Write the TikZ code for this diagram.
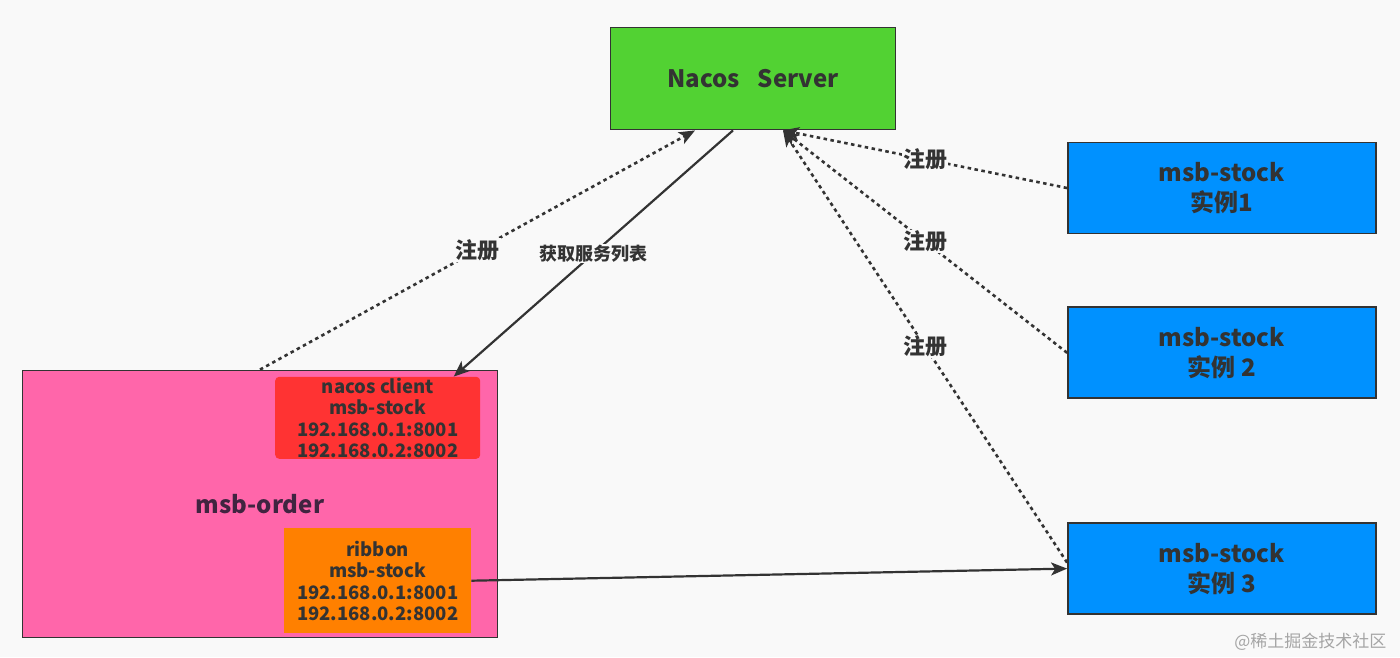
\documentclass[tikz,border=0pt]{standalone}
\usepackage{fontspec}
\setmainfont{Noto Sans CJK SC}
\usetikzlibrary{calc, positioning, arrows.meta}
\definecolor{pageBg}{RGB}{249,249,249}
\definecolor{serverG}{RGB}{82,210,51}
\definecolor{stockB}{RGB}{0,145,255}
\definecolor{orderP}{RGB}{255,102,170}
\definecolor{orderInk}{RGB}{64,36,64}
\definecolor{clientR}{RGB}{255,51,51}
\definecolor{ribbonO}{RGB}{255,128,0}
\definecolor{inkD}{RGB}{51,51,51}
\definecolor{markG}{RGB}{165,165,165}

\begin{document}
\begin{tikzpicture}[x=1pt, y=-1pt, >={Stealth[length=16pt,width=13pt,inset=4pt]},
  box/.style={draw=inkD, line width=1.8pt, inner sep=0pt, align=center, text=inkD},
  stockbox/.style={box, fill=stockB, minimum width=308pt, minimum height=91pt,
        font=\bfseries\fontsize{24}{30}\selectfont},
  inbox/.style={inner sep=0pt, align=center, text=inkD, rounded corners=4pt,
        font=\bfseries\fontsize{18.5}{21.5}\selectfont},
  regline/.style={->, inkD, line width=2.6pt, dash pattern=on 3.5pt off 3.5pt},
  getline/.style={->, inkD, line width=2.2pt},
  lbl/.style={fill=pageBg, inner sep=1pt, text=inkD, font=\bfseries\fontsize{22}{22}\selectfont}]
  \fill[pageBg] (0,0) rectangle (1400,657);
  \useasboundingbox (0,0) rectangle (1400,657);

  % server and instances
  \node[box, fill=serverG, minimum width=285pt, minimum height=102pt,
        font=\bfseries\fontsize{24}{30}\selectfont] (nacos) at (753,78.5)
    {Nacos\hspace{18pt}Server};
  \node[stockbox] (stock1) at (1222,188) {msb-stock\\实例1};
  \node[stockbox, below=72pt of stock1] (stock2) {msb-stock\\实例 2};
  \node[stockbox, below=123pt of stock2] (stock3) {msb-stock\\实例 3};

  % consumer
  \node[box, fill=orderP, minimum width=475pt, minimum height=267pt, text=orderInk,
        font=\bfseries\fontsize{24}{30}\selectfont] (order) at (260,504) {msb-order};
  \node[inbox, fill=clientR, minimum width=205pt, minimum height=82pt, anchor=north east]
    (client) at ([xshift=-18pt,yshift=-7pt]order.north east)
    {nacos client\\msb-stock\\192.168.0.1:8001\\192.168.0.2:8002};
  \node[inbox, fill=ribbonO, rounded corners=0pt, minimum width=187pt, minimum height=105pt,
        anchor=south east] (ribbon) at ([xshift=-27pt,yshift=5pt]order.south east)
    {ribbon\\msb-stock\\192.168.0.1:8001\\192.168.0.2:8002};

  \node[text=markG, font=\fontsize{17}{17}\selectfont, anchor=east] (mark) at (1390,642)
    {@稀土掘金技术社区};

  \coordinate (nacosL) at ([xshift=-58pt]nacos.south);
  \coordinate (nacosM) at ([xshift=-20pt]nacos.south);
  \coordinate (nacosR) at ([xshift=30pt]nacos.south);
  \coordinate (clientIn) at ([xshift=76pt]client.north);

  \draw[regline] (order.north) -- (nacosL) node[lbl, midway]{注册};
  \draw[getline] (nacosM) -- (clientIn)
    node[lbl, midway, font=\bfseries\fontsize{18}{18}\selectfont]{获取服务列表};
  \draw[regline] (stock1.west) -- (nacosR) node[lbl, midway]{注册};
  \draw[regline] (stock2.west) -- (nacosR) node[lbl, midway]{注册};
  \draw[regline] ([yshift=6pt]stock3.west) -- (nacosR) node[lbl, midway]{注册};
  \draw[getline] (ribbon.east) -- (stock3.west);
\end{tikzpicture}
\end{document}
